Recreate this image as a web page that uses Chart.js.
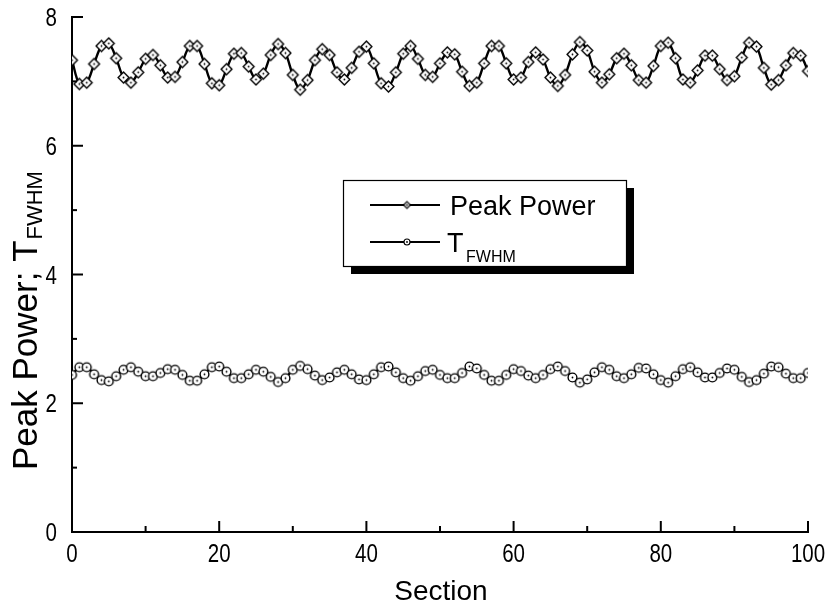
<!DOCTYPE html>
<html>
<head>
<meta charset="utf-8">
<script src="https://cdn.jsdelivr.net/npm/chart.js@4.4.1/dist/chart.umd.min.js"></script>
<style>
  html, body { margin: 0; padding: 0; background: #fff; }
  #wrap { width: 825px; height: 606px; }
</style>
</head>
<body>
<div id="wrap"><canvas id="chart" width="825" height="606"></canvas></div>
<script>
// sections 0..100 (one marker per section)
const sections = Array.from({ length: 101 }, (_, i) => i);

const peakPower = [
  7.33, 6.96, 6.98, 7.27, 7.55, 7.59, 7.36, 7.06, 6.98, 7.14,
  7.35, 7.41, 7.25, 7.06, 7.07, 7.30, 7.55, 7.55, 7.27, 6.97,
  6.94, 7.19, 7.43, 7.44, 7.23, 7.03, 7.12, 7.41, 7.58, 7.44,
  7.10, 6.87, 7.02, 7.33, 7.50, 7.41, 7.14, 7.03, 7.21, 7.46,
  7.54, 7.28, 6.97, 6.92, 7.14, 7.43, 7.55, 7.35, 7.10, 7.07,
  7.28, 7.45, 7.42, 7.15, 6.93, 6.98, 7.28, 7.55, 7.55, 7.28,
  7.03, 7.06, 7.30, 7.45, 7.34, 7.06, 6.93, 7.10, 7.42, 7.61,
  7.48, 7.15, 6.98, 7.11, 7.36, 7.43, 7.25, 7.02, 6.98, 7.24,
  7.55, 7.60, 7.36, 7.03, 6.98, 7.17, 7.40, 7.40, 7.19, 7.02,
  7.08, 7.37, 7.60, 7.54, 7.21, 6.95, 7.02, 7.25, 7.44, 7.40,
  7.16
];

const tFwhm = [
  2.44, 2.56, 2.56, 2.45, 2.36, 2.34, 2.42, 2.52, 2.56, 2.49,
  2.42, 2.42, 2.47, 2.53, 2.52, 2.44, 2.35, 2.35, 2.45, 2.56,
  2.57, 2.49, 2.39, 2.39, 2.45, 2.52, 2.49, 2.41, 2.33, 2.39,
  2.52, 2.58, 2.53, 2.43, 2.36, 2.40, 2.48, 2.52, 2.45, 2.37,
  2.36, 2.45, 2.56, 2.57, 2.48, 2.39, 2.35, 2.42, 2.50, 2.52,
  2.44, 2.39, 2.39, 2.47, 2.57, 2.54, 2.44, 2.35, 2.35, 2.44,
  2.53, 2.50, 2.43, 2.39, 2.44, 2.53, 2.57, 2.50, 2.40, 2.32,
  2.37, 2.48, 2.56, 2.52, 2.42, 2.39, 2.45, 2.55, 2.54, 2.45,
  2.36, 2.32, 2.42, 2.53, 2.56, 2.48, 2.40, 2.40, 2.47, 2.54,
  2.52, 2.41, 2.33, 2.36, 2.46, 2.57, 2.56, 2.46, 2.39, 2.39,
  2.47
];

const xTicks = [0, 20, 40, 60, 80, 100];
const xMinorTicks = [10, 30, 50, 70, 90];
const yTicks = [0, 2, 4, 6, 8];
const yMinorTicks = [1, 3, 5, 7];

const textFont = "'Liberation Sans', Arial, sans-serif";
const narrow = 0.82; // tick digits are set in a condensed face

// marker images: white diamond / circle with a small dot in the middle
function makeMarker(shape, r, lw) {
  const c = document.createElement("canvas");
  const s = Math.ceil(r * 2 + 4);
  c.width = s;
  c.height = s;
  const g = c.getContext("2d");
  const m = s / 2;
  g.beginPath();
  if (shape === "diamond") {
    g.moveTo(m, m - r);
    g.lineTo(m + r, m);
    g.lineTo(m, m + r);
    g.lineTo(m - r, m);
    g.closePath();
  } else {
    g.arc(m, m, r, 0, Math.PI * 2);
  }
  g.fillStyle = "#fff";
  g.fill();
  g.lineWidth = lw;
  g.strokeStyle = "#000";
  g.stroke();
  g.beginPath();
  g.arc(m, m, 0.9, 0, Math.PI * 2);
  g.fillStyle = "#000";
  g.fill();
  return c;
}

const diamond = makeMarker("diamond", 5.4, 1.4);
const circle = makeMarker("circle", 4.4, 1.4);
const diamondSmall = makeMarker("diamond", 3.4, 1.1);
const circleSmall = makeMarker("circle", 3, 1.1);

const decorations = {
  id: "decorations",
  afterDraw(chart) {
    const ctx = chart.ctx;
    const xs = chart.scales.x;
    const ys = chart.scales.y;
    const area = chart.chartArea;
    ctx.save();
    ctx.strokeStyle = "#000";
    ctx.fillStyle = "#000";
    ctx.lineWidth = 2;

    // inward ticks
    const tick = (v, len, axis) => {
      ctx.beginPath();
      if (axis === "x") {
        const px = xs.getPixelForValue(v);
        ctx.moveTo(px, area.bottom);
        ctx.lineTo(px, area.bottom - len);
      } else {
        const py = ys.getPixelForValue(v);
        ctx.moveTo(area.left, py);
        ctx.lineTo(area.left + len, py);
      }
      ctx.stroke();
    };
    xTicks.forEach((v) => tick(v, 11, "x"));
    xMinorTicks.forEach((v) => tick(v, 6, "x"));
    yTicks.forEach((v) => tick(v, 11, "y"));
    yMinorTicks.forEach((v) => tick(v, 5, "y"));

    // tick labels, horizontally condensed
    ctx.font = "25px " + textFont;
    const label = (text, x, y, align, base) => {
      ctx.save();
      ctx.translate(x, y);
      ctx.scale(narrow, 1);
      ctx.textAlign = align;
      ctx.textBaseline = base;
      ctx.fillText(text, 0, 0);
      ctx.restore();
    };
    xTicks.forEach((v) => label(String(v), xs.getPixelForValue(v), 562, "center", "alphabetic"));
    yTicks.forEach((v) => label(String(v), 57, ys.getPixelForValue(v) + 9, "right", "alphabetic"));

    // x axis title
    ctx.textAlign = "center";
    ctx.textBaseline = "alphabetic";
    ctx.font = "28px " + textFont;
    ctx.fillText("Section", 441, 600);

    // y axis title with subscript
    ctx.save();
    ctx.translate(37, 470);
    ctx.rotate(-Math.PI / 2);
    ctx.textAlign = "left";
    ctx.font = "35px " + textFont;
    const main = "Peak Power; T";
    ctx.fillText(main, 0, 0);
    const w = ctx.measureText(main).width;
    ctx.font = "22px " + textFont;
    ctx.fillText("FWHM", w + 1, 5);
    ctx.restore();

    // legend box with shadow
    const lx = 343, ly = 180, lw = 283, lh = 86;
    ctx.fillStyle = "#000";
    ctx.fillRect(lx + 8, ly + 8, lw, lh);
    ctx.fillStyle = "#fff";
    ctx.fillRect(lx, ly, lw, lh);
    ctx.lineWidth = 1.2;
    ctx.strokeRect(lx + 0.5, ly + 0.5, lw, lh);

    const entry = (y, img) => {
      ctx.lineWidth = 2;
      ctx.beginPath();
      ctx.moveTo(370, y);
      ctx.lineTo(440, y);
      ctx.stroke();
      ctx.drawImage(img, 407 - img.width / 2, y - img.height / 2);
    };
    entry(205, diamondSmall);
    entry(242, circleSmall);
    ctx.fillStyle = "#000";
    ctx.textAlign = "left";
    ctx.font = "27px " + textFont;
    ctx.fillText("Peak Power", 450, 215);
    ctx.fillText("T", 447, 252);
    ctx.font = "16px " + textFont;
    ctx.fillText("FWHM", 466, 262);
    ctx.restore();
  }
};

const ctx = document.getElementById("chart").getContext("2d");
new Chart(ctx, {
  type: "line",
  data: {
    datasets: [
      {
        label: "Peak Power",
        data: sections.map((s, i) => ({ x: s, y: peakPower[i] })),
        borderColor: "#000",
        borderWidth: 2.4,
        pointStyle: diamond,
        tension: 0.35,
        fill: false
      },
      {
        label: "TFWHM",
        data: sections.map((s, i) => ({ x: s, y: tFwhm[i] })),
        borderColor: "#000",
        borderWidth: 2.4,
        pointStyle: circle,
        tension: 0.35,
        fill: false
      }
    ]
  },
  options: {
    responsive: false,
    animation: false,
    events: [],
    layout: { padding: { top: 17, right: 17, left: 0, bottom: 0 } },
    plugins: {
      legend: { display: false },
      title: { display: false },
      tooltip: { enabled: false }
    },
    scales: {
      x: {
        type: "linear",
        min: 0,
        max: 100,
        afterFit: (scale) => {
          scale.height = 74;
          scale.paddingLeft = 0;
          scale.paddingRight = 0;
        },
        afterBuildTicks: (scale) => { scale.ticks = xTicks.map((v) => ({ value: v })); },
        grid: { display: false, drawTicks: false },
        border: { display: true, color: "#000", width: 2 },
        ticks: { display: false }
      },
      y: {
        min: 0,
        max: 8,
        afterFit: (scale) => {
          scale.width = 72;
          scale.paddingTop = 0;
          scale.paddingBottom = 0;
        },
        afterBuildTicks: (scale) => { scale.ticks = yTicks.map((v) => ({ value: v })); },
        grid: { display: false, drawTicks: false },
        border: { display: true, color: "#000", width: 2 },
        ticks: { display: false }
      }
    }
  },
  plugins: [decorations]
});
</script>
</body>
</html>
